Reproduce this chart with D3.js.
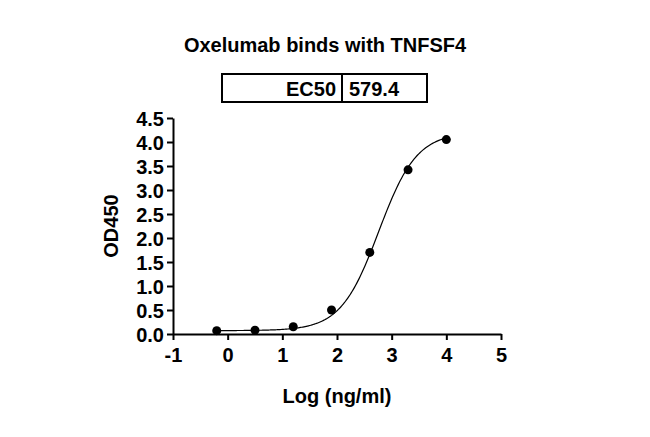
<!DOCTYPE html>
<html><head><meta charset="utf-8">
<script src="https://cdn.jsdelivr.net/npm/d3@7"></script>
<style>body{margin:0;background:#fff}text{font-family:Arial,"Liberation Sans",sans-serif;font-weight:bold}</style>
</head><body><svg id="c" width="650" height="437"></svg>
<script>
const logConc = [-0.2, 0.5, 1.2, 1.9, 2.6, 3.3, 4.0];
const od450 = [0.07, 0.08, 0.15, 0.5, 1.7, 3.42, 4.05];
const fit = { bottom: 0.07, top: 4.2, logEC50: Math.log10(579.4), hill: 1.25 };
const xTicks = [-1, 0, 1, 2, 3, 4, 5];
const yTicks = [0, 0.5, 1, 1.5, 2, 2.5, 3, 3.5, 4, 4.5];

const svg = d3.select('#c');
const x = d3.scaleLinear().domain([-1, 5]).range([173, 501]);
const y = d3.scaleLinear().domain([0, 4.5]).range([334, 118]);

svg.append('text').attr('x', 325).attr('y', 52).attr('text-anchor', 'middle')
  .style('font-size', '20px').text('Oxelumab binds with TNFSF4');

const box = svg.append('g');
box.append('rect').attr('x', 222).attr('y', 74).attr('width', 205).attr('height', 28)
  .attr('fill', 'none').attr('stroke', '#000').attr('stroke-width', 2);
box.append('line').attr('x1', 342).attr('x2', 342).attr('y1', 74).attr('y2', 102)
  .attr('stroke', '#000').attr('stroke-width', 2);
box.append('text').attr('x', 336).attr('y', 96).attr('text-anchor', 'end').style('font-size', '20px').text('EC50');
box.append('text').attr('x', 349).attr('y', 96).style('font-size', '20px').text('579.4');

svg.append('g').attr('transform', 'translate(0,334)')
  .call(d3.axisBottom(x).tickValues(xTicks).tickFormat(d => String(d)).tickSize(6).tickSizeOuter(0))
  .call(g => g.selectAll('text').style('font-size', '20px').attr('dy', '0.95em'));
svg.append('g').attr('transform', 'translate(173,0)')
  .call(d3.axisLeft(y).tickValues(yTicks).tickFormat(d3.format('.1f')).tickSize(6).tickSizeOuter(0))
  .call(g => g.selectAll('text').style('font-size', '20px').attr('dy', '0.35em'));
svg.selectAll('.domain, .tick line').attr('stroke', '#000').attr('stroke-width', 2);

svg.append('text').attr('x', 337).attr('y', 403).attr('text-anchor', 'middle')
  .style('font-size', '20px').text('Log (ng/ml)');
svg.append('text').attr('transform', 'translate(118,226) rotate(-90)').attr('text-anchor', 'middle')
  .style('font-size', '20px').text('OD450');

const f = v => fit.bottom + (fit.top - fit.bottom) / (1 + Math.pow(10, (fit.logEC50 - v) * fit.hill));
const xs = d3.range(201).map(i => logConc[0] + i * (logConc[6] - logConc[0]) / 200);
svg.append('path').datum(xs)
  .attr('d', d3.line().x(d => x(d)).y(d => y(f(d))))
  .attr('fill', 'none').attr('stroke', '#000').attr('stroke-width', 1.2);

svg.append('g').selectAll('circle').data(logConc).enter().append('circle')
  .attr('cx', d => x(d)).attr('cy', (d, i) => y(od450[i])).attr('r', 4.5).attr('fill', '#000');
</script></body></html>
